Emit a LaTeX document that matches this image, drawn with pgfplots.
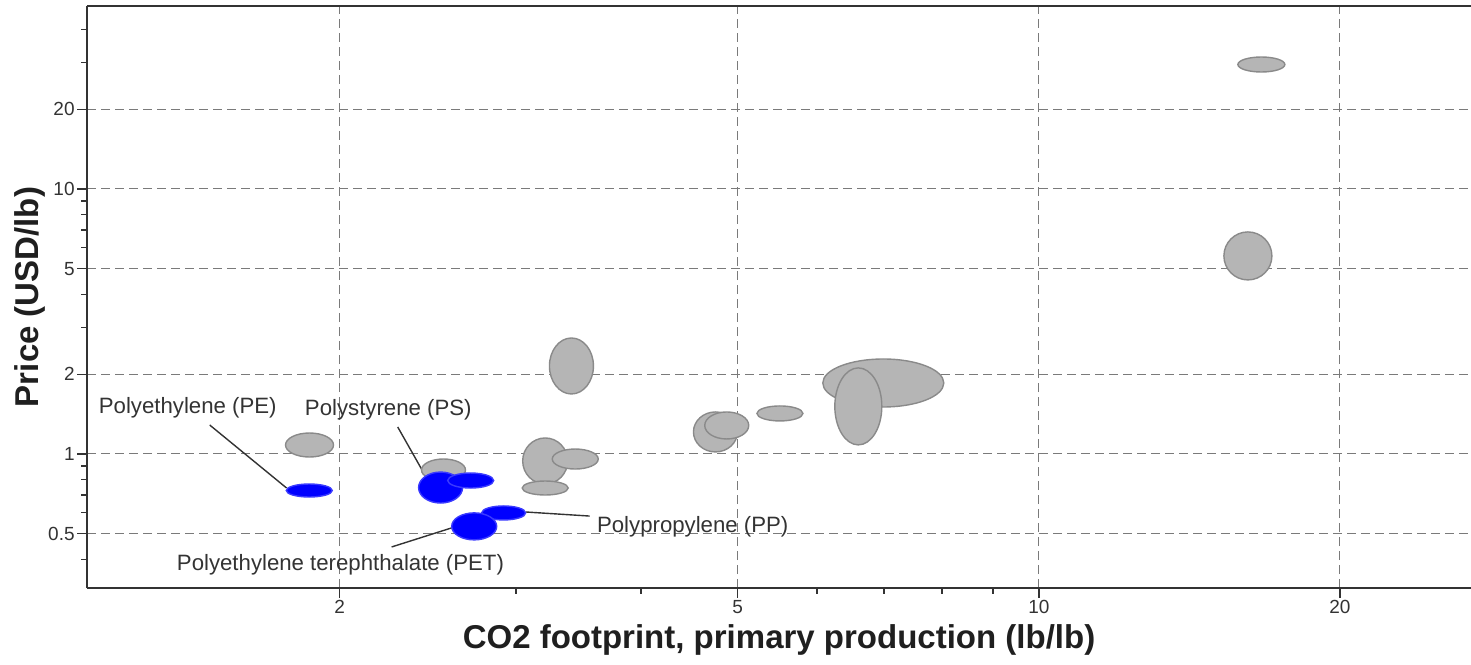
\documentclass[border=0pt]{standalone}
\usepackage{pgfplots}
\pgfplotsset{compat=1.18}
\usepackage{pgfplotstable}
\usepackage{fontspec}
\setmainfont{Liberation Sans}

\definecolor{ellgrayfill}{HTML}{B5B5B5}
\definecolor{ellgraydraw}{HTML}{8A8A8A}
\definecolor{ellbluefill}{HTML}{0000FF}
\definecolor{ellbluedraw}{HTML}{3A3AFF}
\definecolor{txt}{HTML}{333333}
\definecolor{gridc}{HTML}{7A7A7A}

% ellipse marks: width/height given in reference pixels (1 px = 0.5 pt)
\pgfdeclareplotmark{ellgray}{%
  \pgfsetlinewidth{0.7pt}%
  \pgfsetfillcolor{ellgrayfill}\pgfsetstrokecolor{ellgraydraw}%
  \pgfpathellipse{\pgfpointorigin}{\pgfpoint{\ew*0.25pt}{0pt}}{\pgfpoint{0pt}{\eh*0.25pt}}%
  \pgfusepathqfillstroke}
\pgfdeclareplotmark{ellblue}{%
  \pgfsetlinewidth{0.7pt}%
  \pgfsetfillcolor{ellbluefill}\pgfsetstrokecolor{ellbluedraw}%
  \pgfpathellipse{\pgfpointorigin}{\pgfpoint{\ew*0.25pt}{0pt}}{\pgfpoint{0pt}{\eh*0.25pt}}%
  \pgfusepathqfillstroke}

\pgfplotstableread{
x y w h
2.54 0.870 44 22
1.866 1.081 48 24
3.41 2.148 44 56
3.21 0.941 45 46
3.44 0.957 46 20
3.21 0.744 46 14
4.75 1.211 44 40
4.875 1.281 44 27
5.51 1.422 46 15
6.99 1.853 121 48
6.60 1.512 47 77
16.18 5.59 48 48
16.69 29.5 47 15
}\graytab

\pgfplotstableread{
x y w h
1.865 0.728 46 13
2.523 0.747 44 31
2.704 0.794 46 15
2.917 0.599 44 14
2.726 0.533 45 27
}\bluetab

\pgfplotsset{every non boxed y axis/.style={}, every non boxed x axis/.style={}}

\begin{document}
\begin{tikzpicture}
\begin{axis}[
  xmode=log, ymode=log,
  scale only axis, width=692pt, height=291pt,
  xmin=1.118, xmax=27.04, ymin=0.312, ymax=49.05,
  axis x line=box, axis y line=left,
  axis line style={-, line width=1pt, color=txt},
  tick align=outside, tick pos=left,
  xtick={2,5,10,20}, xticklabels={2,5,10,20},
  ytick={0.5,1,2,5,10,20}, yticklabels={0.5,1,2,5,10,20},
  minor xtick={3,4,6,7,8,9},
  minor ytick={0.4,0.6,0.7,0.8,0.9,3,4,6,7,8,9,30,40},
  major tick length=5pt, minor tick length=3pt,
  tick style={color=txt, line width=0.7pt},
  grid=major,
  major grid style={color=gridc, line width=0.5pt, dash pattern=on 4.5pt off 2.5pt},
  ticklabel style={font=\fontsize{9.5}{10}\selectfont, text=txt, inner sep=1pt},
  xlabel={CO2 footprint, primary production (lb/lb)},
  ylabel={Price (USD/lb)},
  every axis x label/.style={at={([yshift=-26pt]axis description cs:0.5,0)}, anchor=center,
     font=\fontsize{16.5}{18}\selectfont\bfseries, text=black!88},
  every axis y label/.style={at={([xshift=-28.5pt]axis description cs:0,0.5)}, anchor=center, rotate=90,
     font=\fontsize{16.5}{18}\selectfont\bfseries, text=black!88},
  clip=false,
]
\coordinate (SW) at (rel axis cs:0,0);
\coordinate (NE) at (rel axis cs:1,1);

\addplot[scatter, only marks, mark=ellgray,
  visualization depends on={\thisrow{w} \as \ew},
  visualization depends on={\thisrow{h} \as \eh},
  scatter/@pre marker code/.code={\pgfscope},
  scatter/@post marker code/.code={\endpgfscope}]
  table[x=x, y=y] {\graytab};

\addplot[scatter, only marks, mark=ellblue,
  visualization depends on={\thisrow{w} \as \ew},
  visualization depends on={\thisrow{h} \as \eh},
  scatter/@pre marker code/.code={\pgfscope},
  scatter/@post marker code/.code={\endpgfscope}]
  table[x=x, y=y] {\bluetab};

% leader lines
\addplot[no marks, color=txt, line width=0.7pt] coordinates {(1.483,1.286) (1.770,0.744)};
\addplot[no marks, color=txt, line width=0.7pt] coordinates {(2.286,1.264) (2.427,0.848)};
\addplot[no marks, color=txt, line width=0.7pt] coordinates {(3.069,0.604) (3.556,0.583)};
\addplot[no marks, color=txt, line width=0.7pt] coordinates {(2.254,0.4457) (2.588,0.526)};

\node[anchor=west, inner sep=0pt, text=txt, font=\fontsize{11.1}{13}\selectfont] at (axis cs:1.148,1.491) {Polyethylene (PE)};
\node[anchor=west, inner sep=0pt, text=txt, font=\fontsize{11.1}{13}\selectfont] at (axis cs:1.845,1.466) {Polystyrene (PS)};
\node[anchor=west, inner sep=0pt, text=txt, font=\fontsize{11.1}{13}\selectfont] at (axis cs:3.614,0.530) {Polypropylene (PP)};
\node[anchor=west, inner sep=0pt, text=txt, font=\fontsize{11.1}{13}\selectfont] at (axis cs:1.374,0.3813) {Polyethylene terephthalate (PET)};
\end{axis}
\pgfresetboundingbox
\path ([xshift=-43.5pt,yshift=-38pt]SW) rectangle ([yshift=3pt]NE);
\end{tikzpicture}
\end{document}
